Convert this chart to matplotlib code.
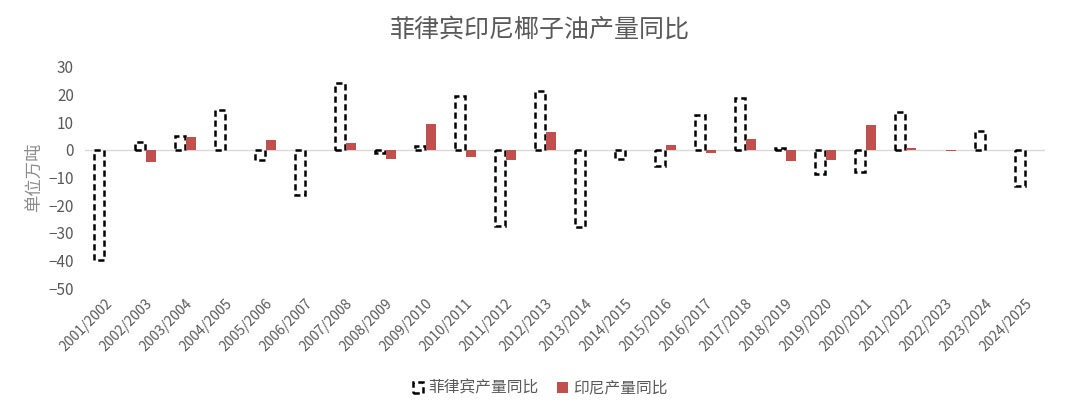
import numpy as np
import matplotlib
matplotlib.use('Agg')
import matplotlib.pyplot as plt
from matplotlib.patches import Patch

plt.rcParams['font.family'] = ['Noto Sans CJK SC', 'DejaVu Sans']

years = ['2001/2002', '2002/2003', '2003/2004', '2004/2005', '2005/2006', '2006/2007',
         '2007/2008', '2008/2009', '2009/2010', '2010/2011', '2011/2012', '2012/2013',
         '2013/2014', '2014/2015', '2015/2016', '2016/2017', '2017/2018', '2018/2019',
         '2019/2020', '2020/2021', '2021/2022', '2022/2023', '2023/2024', '2024/2025']
phil = [-40, 2.7, 5.1, 14.5, -3.8, -16.3, 24.3, -1.3, 1.2, 19.4, -27.5, 21.2,
        -27.9, -3.5, -5.7, 12.7, 18.9, 0.5, -8.7, -8.0, 13.6, 0, 6.7, -13]
indo = [0, -4.3, 4.5, 0, 3.6, 0, 2.6, -3.2, 9.2, -2.6, -3.6, 6.5,
        0, 0, 1.6, -1.2, 4.0, -4.1, -3.6, 8.8, 0.6, -0.6, 0, 0]

gray = '#595959'
red = '#C0504D'

fig = plt.figure(figsize=(10.8, 4.15), dpi=100)
ax = fig.add_axes([0.0787, 0.306, 0.889, 0.533])

x = np.arange(len(years))
w = 0.25
# zero values are not drawn (no visible outline in the original)
phil_plot = np.where(np.array(phil) == 0, np.nan, phil)
ax.bar(x - 0.1375, phil_plot, w, facecolor='white', edgecolor='black',
       linewidth=1.8, linestyle=(0, (2.5, 1.5)), zorder=3)
ax.bar(x + 0.1375, indo, w, color=red, zorder=3)
ax.axhline(0, color='#D9D9D9', linewidth=1, zorder=2)

ax.set_xlim(-0.5, len(years) - 0.5)
ax.set_ylim(-50, 30)
ax.set_yticks(np.arange(-50, 31, 10))
ax.set_xticks(x)
ax.set_xticklabels(years, rotation=45, ha='right', rotation_mode='anchor',
                   fontsize=10, color=gray)
ax.tick_params(axis='y', labelsize=11, colors=gray, length=0, pad=8)
ax.tick_params(axis='x', length=0, pad=6)
for s in ax.spines.values():
    s.set_visible(False)

ax.set_ylabel('单位万吨', fontsize=12.5, color='#8C8C8C', labelpad=4,
              fontweight='light')
fig.suptitle('菲律宾印尼椰子油产量同比', fontsize=18, color=gray, y=0.96,
             fontweight='light')

handles = [Patch(facecolor='white', edgecolor='black', linewidth=1.8,
                 linestyle=(0, (2.5, 1.5)), label='菲律宾产量同比'),
           Patch(facecolor=red, label='印尼产量同比')]
fig.legend(handles=handles, loc='center', bbox_to_anchor=(0.5, 0.065), ncol=2,
           frameon=False, fontsize=11.3, labelcolor=gray, handlelength=0.7,
           handleheight=0.7, handletextpad=0.3, columnspacing=1.2)

fig.savefig('out.png', dpi=100)
